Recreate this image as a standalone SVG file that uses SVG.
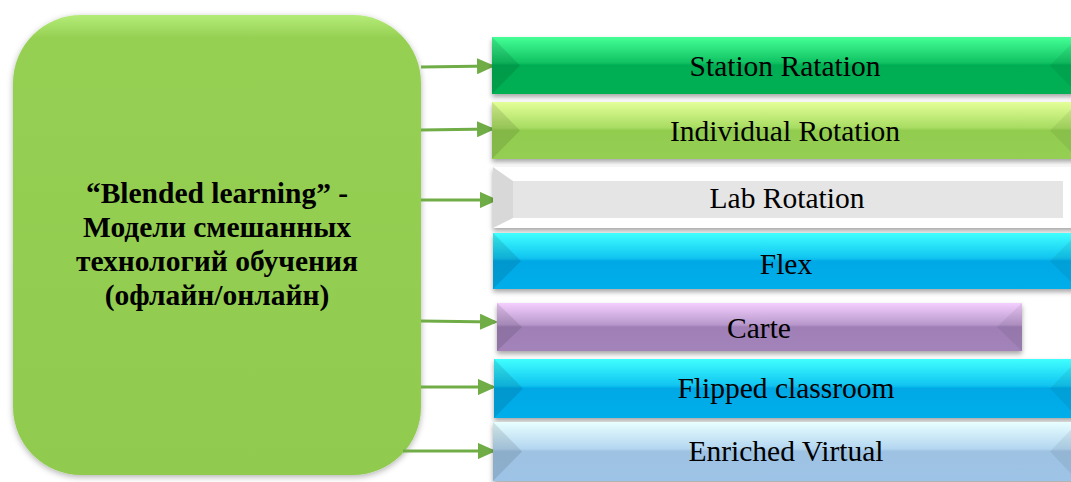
<svg xmlns="http://www.w3.org/2000/svg" width="1071" height="482" viewBox="0 0 1071 482">
  <defs>
    <style>
      text { font-family: "Liberation Serif", "DejaVu Serif", serif; }
      .lbl { font-size: 29.5px; fill: #000; text-anchor: middle; }
      .main { font-size: 29.5px; font-weight: bold; fill: #000; text-anchor: middle; }
      .conn { stroke: #70AD47; stroke-width: 3; fill: none; marker-end: url(#arr); }
      .bevL { fill: #000; opacity: 0.10; }
      .bevR { fill: #000; opacity: 0.06; }
    </style>
    <marker id="arr" markerWidth="6" markerHeight="5.4" refX="5" refY="2.7" orient="auto" markerUnits="strokeWidth">
      <path d="M0,0 L6,2.7 L0,5.4 Z" fill="#70AD47"/>
    </marker>
    <filter id="sh" x="-5%" y="-20%" width="110%" height="150%">
      <feDropShadow dx="0" dy="3" stdDeviation="2.5" flood-color="#000" flood-opacity="0.35"/>
    </filter>
    <filter id="glow" x="-10%" y="-10%" width="120%" height="120%">
      <feGaussianBlur in="SourceAlpha" stdDeviation="3"/>
      <feOffset dx="0" dy="2" result="b"/>
      <feFlood flood-color="#000" flood-opacity="0.3"/>
      <feComposite in2="b" operator="in"/>
      <feMerge><feMergeNode/><feMergeNode in="SourceGraphic"/></feMerge>
    </filter>
    <linearGradient id="gBox" x1="0" y1="0" x2="0" y2="1">
      <stop offset="0" stop-color="#b4ec78"/>
      <stop offset="0.05" stop-color="#96d052"/>
      <stop offset="1" stop-color="#90cb50"/>
    </linearGradient>
    <linearGradient id="gGreen" x1="0" y1="0" x2="0" y2="1">
      <stop offset="0" stop-color="#44ff96"/>
      <stop offset="0.45" stop-color="#11c262"/>
      <stop offset="0.5" stop-color="#00ad52"/>
      <stop offset="1" stop-color="#00b052"/>
    </linearGradient>
    <linearGradient id="gLime" x1="0" y1="0" x2="0" y2="1">
      <stop offset="0" stop-color="#e4ff98"/>
      <stop offset="0.45" stop-color="#a8dc62"/>
      <stop offset="0.5" stop-color="#92cc50"/>
      <stop offset="1" stop-color="#94cf52"/>
    </linearGradient>
    <linearGradient id="gCyan" x1="0" y1="0" x2="0" y2="1">
      <stop offset="0" stop-color="#40ffff"/>
      <stop offset="0.45" stop-color="#10c4f0"/>
      <stop offset="0.5" stop-color="#00a9e6"/>
      <stop offset="1" stop-color="#00aeea"/>
    </linearGradient>
    <linearGradient id="gPurple" x1="0" y1="0" x2="0" y2="1">
      <stop offset="0" stop-color="#f4cfff"/>
      <stop offset="0.45" stop-color="#b898cc"/>
      <stop offset="0.5" stop-color="#9f7fb6"/>
      <stop offset="1" stop-color="#a283ba"/>
    </linearGradient>
    <linearGradient id="gBlue" x1="0" y1="0" x2="0" y2="1">
      <stop offset="0" stop-color="#e8ffff"/>
      <stop offset="0.45" stop-color="#b4d6f0"/>
      <stop offset="0.5" stop-color="#9ec2e2"/>
      <stop offset="1" stop-color="#9dc3e6"/>
    </linearGradient>
  </defs>

  <rect width="1071" height="482" fill="#fff"/>

  <g id="center-node">
    <rect x="13" y="15" width="408" height="460" rx="68" ry="68" fill="url(#gBox)" filter="url(#glow)"/>
    <text class="main" x="217" y="203">“Blended learning” -</text>
    <text class="main" x="217" y="237">Модели смешанных</text>
    <text class="main" x="217" y="271">технологий обучения</text>
    <text class="main" x="217" y="305">(офлайн/онлайн)</text>
  </g>

  <g id="connectors">
    <line class="conn" x1="421" y1="67" x2="492" y2="66"/>
    <line class="conn" x1="421" y1="130" x2="492" y2="129"/>
    <line class="conn" x1="421" y1="200" x2="495" y2="200"/>
    <line class="conn" x1="421" y1="321" x2="495" y2="322"/>
    <line class="conn" x1="421" y1="387" x2="493" y2="387"/>
    <line class="conn" x1="403" y1="451" x2="493" y2="451"/>
  </g>

  <g id="station-rotation">
    <rect x="492" y="37" width="586" height="57" fill="url(#gGreen)" filter="url(#sh)"/>
    <polygon class="bevL" points="492,37 520,65.5 492,94"/>
    <polygon class="bevR" points="1078,37 1050,65.5 1078,94"/>
    <text class="lbl" x="785" y="76">Station Ratation</text>
  </g>

  <g id="individual-rotation">
    <rect x="492" y="102" width="586" height="57" fill="url(#gLime)" filter="url(#sh)"/>
    <polygon class="bevL" points="492,102 520,130.5 492,159"/>
    <polygon class="bevR" points="1078,102 1050,130.5 1078,159"/>
    <text class="lbl" x="785" y="141">Individual Rotation</text>
  </g>

  <g id="lab-rotation">
    <rect x="493" y="167" width="585" height="61" fill="#ffffff" filter="url(#sh)"/>
    <polygon points="493,167 513,181 513,218 493,228" fill="#d8d8d8"/>
    <rect x="513" y="181" width="550" height="37" fill="#e5e5e5"/>
    <text class="lbl" x="787" y="208">Lab Rotation</text>
  </g>

  <g id="flex">
    <rect x="493" y="233" width="585" height="56" fill="url(#gCyan)" filter="url(#sh)"/>
    <polygon class="bevL" points="493,233 521,261 493,289"/>
    <polygon class="bevR" points="1078,233 1050,261 1078,289"/>
    <text class="lbl" x="786" y="274">Flex</text>
  </g>

  <g id="carte">
    <rect x="497" y="303" width="525" height="48" fill="url(#gPurple)" filter="url(#sh)"/>
    <polygon class="bevL" points="497,303 522,327 497,351"/>
    <polygon class="bevR" points="1022,303 997,327 1022,351"/>
    <text class="lbl" x="759" y="338">Carte</text>
  </g>

  <g id="flipped-classroom">
    <rect x="494" y="359" width="584" height="59" fill="url(#gCyan)" filter="url(#sh)"/>
    <polygon class="bevL" points="494,359 523,388.5 494,418"/>
    <polygon class="bevR" points="1078,359 1050,388.5 1078,418"/>
    <text class="lbl" x="786" y="398">Flipped classroom</text>
  </g>

  <g id="enriched-virtual">
    <rect x="493" y="422" width="585" height="59" fill="url(#gBlue)" filter="url(#sh)"/>
    <polygon class="bevL" points="493,422 522,451.5 493,481"/>
    <polygon class="bevR" points="1078,422 1050,451.5 1078,481"/>
    <text class="lbl" x="786" y="461">Enriched Virtual</text>
  </g>
</svg>
